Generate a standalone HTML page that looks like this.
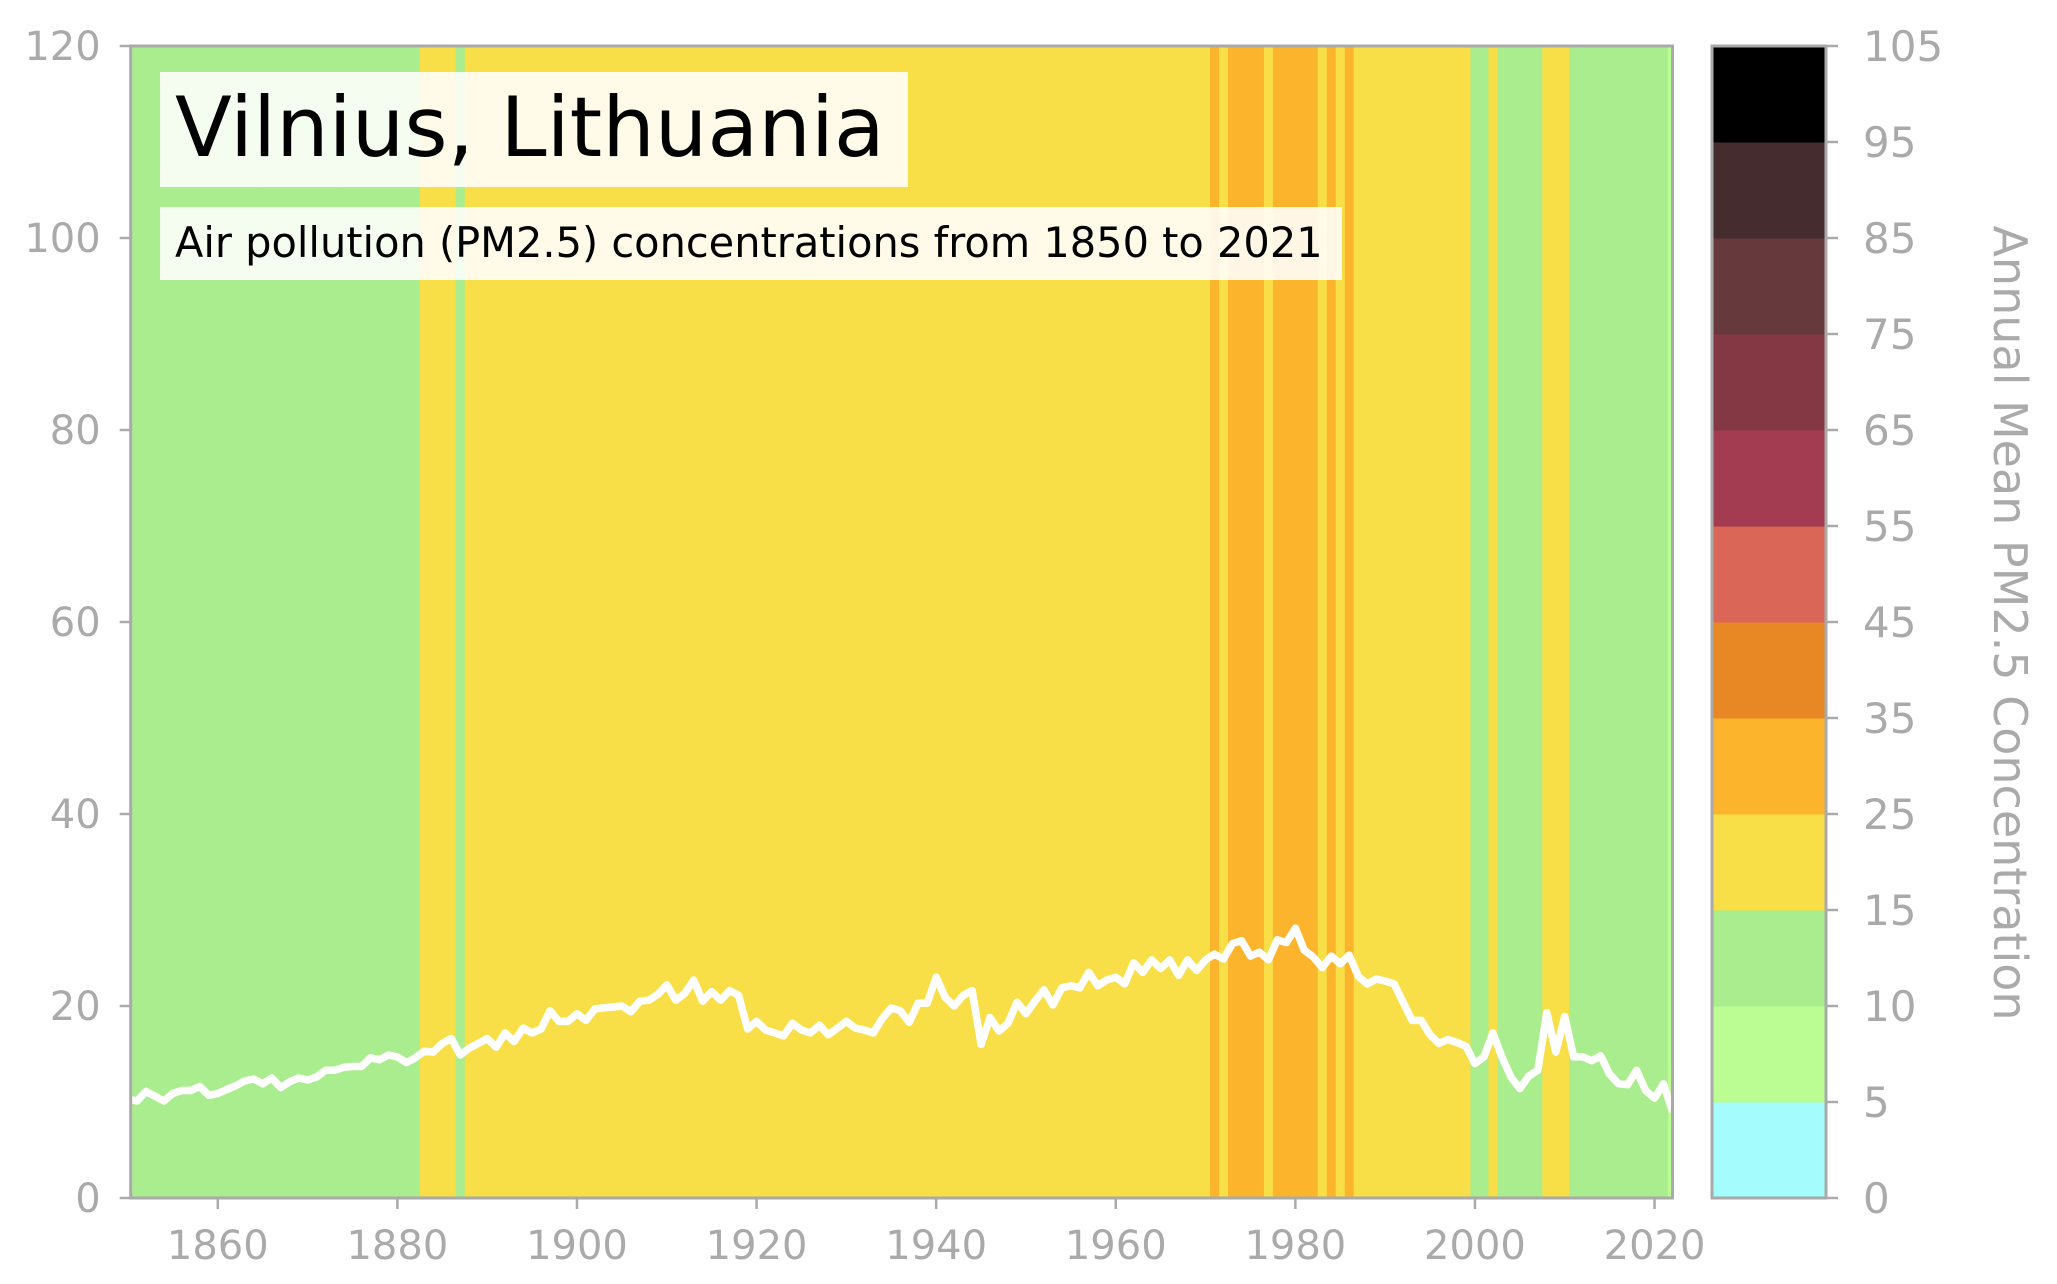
<!DOCTYPE html>
<html><head><meta charset="utf-8"><style>
html,body{margin:0;padding:0;background:#fff;}
svg{display:block;font-family:"DejaVu Sans","Liberation Sans",sans-serif;}
</style></head><body>
<svg id="chart" width="2057" height="1284" viewBox="0 0 2057 1284" xmlns="http://www.w3.org/2000/svg">
<defs><clipPath id="plotclip"><rect x="130.7" y="46" width="1541.8" height="1152"/></clipPath></defs>
<g id="stripes" clip-path="url(#plotclip)"></g>
<g id="line" clip-path="url(#plotclip)"></g>
<g id="axes"></g>
<g id="cbar"></g>
<rect x="160" y="72" width="748" height="115" fill="rgba(255,255,255,0.88)"/>
<text x="175" y="156" font-size="83" fill="#000">Vilnius, Lithuania</text>
<rect x="160" y="207" width="1182" height="73" fill="rgba(255,255,255,0.88)"/>
<text x="175" y="257" font-size="41.5" fill="#000">Air pollution (PM2.5) concentrations from 1850 to 2021</text>
<text transform="translate(1994,623) rotate(90)" text-anchor="middle" font-size="46" fill="#aaaaaa">Annual Mean PM2.5 Concentration</text>
</svg>
<script>
const startYear = 1850;
const pmValues = [
10.3,10.1,11.1,10.6,10.1,10.9,11.2,11.2,11.6,10.7,
10.9,11.3,11.7,12.2,12.4,11.9,12.5,11.5,12.1,12.5,
12.3,12.6,13.3,13.3,13.6,13.7,13.7,14.6,14.4,14.9,
14.7,14.1,14.6,15.3,15.2,16.1,16.6,14.9,15.6,16.1,
16.6,15.7,17.2,16.3,17.7,17.2,17.6,19.5,18.4,18.4,
19.2,18.5,19.7,19.8,19.9,20.0,19.4,20.5,20.6,21.2,
22.2,20.6,21.3,22.7,20.5,21.5,20.6,21.6,21.1,17.6,
18.4,17.5,17.2,16.9,18.2,17.5,17.2,18.0,17.0,17.7,
18.4,17.7,17.5,17.2,18.7,19.8,19.5,18.3,20.3,20.3,
23.0,20.9,20.0,21.1,21.6,16.0,18.8,17.4,18.2,20.4,
19.2,20.5,21.7,20.1,21.9,22.1,21.9,23.5,22.1,22.7,
23.0,22.3,24.5,23.5,24.8,23.9,24.8,23.2,24.8,23.7,
24.8,25.4,24.9,26.5,26.8,25.2,25.6,24.8,26.9,26.6,
28.1,25.8,25.1,24.0,25.2,24.4,25.3,23.1,22.3,22.8,
22.6,22.3,20.4,18.5,18.5,17.0,16.1,16.5,16.2,15.8,
14.0,14.7,17.2,14.7,12.6,11.4,12.7,13.3,19.3,15.2,
18.9,14.7,14.7,14.3,14.8,12.9,11.9,11.8,13.3,11.2,
10.4,11.9,9.0];
const binEdges = [0,5,10,15,25,35,45,55,65,75,85,95,105];
const binColors = ["#a4fcfc","#bbfd93","#a9ed8e","#f8df47","#fcb42d","#e78825","#d96657","#a33b51","#843844","#66393c","#452c2f","#000000"];
const xTicks = [1860,1880,1900,1920,1940,1960,1980,2000,2020];
const yTicks = [0,20,40,60,80,100,120];

const NS = "http://www.w3.org/2000/svg";
const X0 = 130.7, X1 = 1672.5, XMIN = 1850.3, XMAX = 2022.0;
const Y0 = 1198, Y1 = 46, YMAX = 120;
function xs(yr){ return X0 + (yr - XMIN) * (X1 - X0) / (XMAX - XMIN); }
function ys(v){ return Y0 - v * (Y0 - Y1) / YMAX; }
function mk(tag, attrs, parent){ const e = document.createElementNS(NS, tag); for (const k in attrs) e.setAttribute(k, attrs[k]); parent.appendChild(e); return e; }
function colorFor(v){ for (let i = 0; i < binColors.length; i++){ if (v < binEdges[i+1]) return binColors[i]; } return binColors[binColors.length-1]; }

const gS = document.getElementById('stripes');
pmValues.forEach((v, i) => {
  const yr = startYear + i;
  const r = mk('rect', {x: xs(yr - 0.5), y: Y1, width: xs(yr + 0.5) - xs(yr - 0.5) + 0.6, height: Y0 - Y1, fill: colorFor(v)}, gS);
  
  
});

const gL = document.getElementById('line');
const pts = pmValues.map((v, i) => xs(startYear + i).toFixed(1) + ',' + ys(v).toFixed(1)).join(' ');
const pl = mk('polyline', {points: pts, fill: 'none', stroke: '#ffffff', 'stroke-width': 7.5, 'stroke-linejoin': 'round'}, gL);



const gA = document.getElementById('axes');
const frame = mk('rect', {x: X0, y: Y1, width: X1 - X0, height: Y0 - Y1, fill: 'none', stroke: '#aaaaaa', 'stroke-width': 3}, gA);


yTicks.forEach(t => {
  const y = ys(t);
  const tk = mk('line', {x1: X0 - 11, x2: X0, y1: y, y2: y, stroke: '#aaaaaa', 'stroke-width': 2.5}, gA);
  
  
  const tl = mk('text', {x: X0 - 30, y: y + 14, 'text-anchor': 'end', 'font-size': 40, fill: '#aaaaaa'}, gA);
  tl.textContent = t;
  
  
});
xTicks.forEach(t => {
  const x = xs(t);
  const tk = mk('line', {x1: x, x2: x, y1: Y0, y2: Y0 + 11, stroke: '#aaaaaa', 'stroke-width': 2.5}, gA);
  
  
  const tl = mk('text', {x: x, y: 1259, 'text-anchor': 'middle', 'font-size': 40, fill: '#aaaaaa'}, gA);
  tl.textContent = t;
  
  
});

const gC = document.getElementById('cbar');
const CX0 = 1712, CX1 = 1826, segH = (Y0 - Y1) / binColors.length;
binColors.forEach((c, i) => {
  const r = mk('rect', {x: CX0, y: Y0 - (i + 1) * segH, width: CX1 - CX0, height: segH + 0.5, fill: c}, gC);
  
  
});
const cf = mk('rect', {x: CX0, y: Y1, width: CX1 - CX0, height: Y0 - Y1, fill: 'none', stroke: '#aaaaaa', 'stroke-width': 3}, gC);


binEdges.forEach((e, i) => {
  const y = Y0 - i * segH;
  const tk = mk('line', {x1: CX1, x2: CX1 + 12, y1: y, y2: y, stroke: '#aaaaaa', 'stroke-width': 2.5}, gC);
  
  
  const tl = mk('text', {x: 1863, y: y + 15, 'font-size': 42, fill: '#aaaaaa'}, gC);
  tl.textContent = e;
  
  
});
</script>
</body></html>
